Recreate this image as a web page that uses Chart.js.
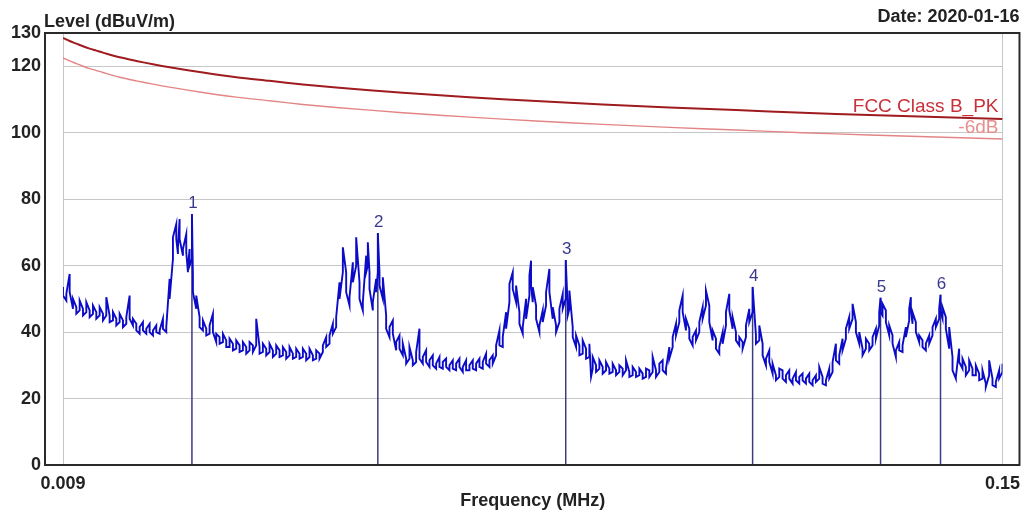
<!DOCTYPE html>
<html>
<head>
<meta charset="utf-8">
<script src="https://cdn.jsdelivr.net/npm/chart.js@4.4.1/dist/chart.umd.min.js"></script>
<style>
html,body{margin:0;padding:0;background:#fff}
#wrap{width:1028px;height:517px;position:relative}
</style>
</head>
<body>
<div id="wrap"><canvas id="c" width="1028" height="517"></canvas></div>
<script>
// ---- texts ----
const yAxisTitle = 'Level (dBuV/m)';
const xAxisTitle = 'Frequency (MHz)';
const dateText = 'Date: 2020-01-16';

// ---- ticks ----
const xTickValues = [0.009, 0.15];
const xTickLabels = ['0.009', '0.15'];
const yTickValues = [0, 20, 40, 60, 80, 100, 120, 130];

// ---- limit lines (kHz, dBuV/m) ----
const limitName = 'FCC Class B_PK';
const marginName = '-6dB';
const limitKHz = [9, 10, 11, 12, 13, 14, 15, 17.5, 20, 22.5, 25, 30, 35, 40, 45, 50, 60, 70, 80, 90, 100, 110, 120, 130, 140, 150];
const limitDb  = [128.5, 127.6, 126.8, 126.0, 125.3, 124.7, 124.1, 122.7, 121.6, 120.6, 119.7, 118.1, 116.7, 115.6, 114.5, 113.6, 112.0, 110.7, 109.5, 108.5, 107.6, 106.8, 106.0, 105.3, 104.7, 104.1];
const marginDb = [122.5, 121.6, 120.8, 120.0, 119.3, 118.7, 118.1, 116.7, 115.6, 114.6, 113.7, 112.1, 110.7, 109.6, 108.5, 107.6, 106.0, 104.7, 103.5, 102.5, 101.6, 100.8, 100.0, 99.3, 98.7, 98.1];

// ---- measured trace (kHz, dBuV/m): top and bottom of the noise band ----
const traceKHz = [
  9, 9.5, 10, 10.5, 11, 11.5, 12, 12.5, 13, 13.5,
  14, 14.5, 15, 15.5, 16, 16.5, 17, 17.5, 18, 18.5,
  19, 19.5, 20, 20.5, 21, 21.5, 22, 22.5, 23, 23.5,
  24, 24.5, 25, 25.5, 26, 26.25, 26.5, 27, 27.5, 27.75, 28, 28.35, 28.5,
  29, 29.5, 30, 30.5, 31, 31.5, 32, 32.5, 33, 33.5,
  34, 34.5, 35, 35.5, 36, 36.5, 37, 37.5, 38, 38.5,
  39, 39.5, 40, 40.5, 41, 41.5, 42, 42.5, 43, 43.5,
  44, 44.5, 45, 45.5, 46, 46.5, 47, 47.5, 48, 48.5,
  49, 49.5, 50, 50.5, 51, 51.5, 52, 52.5, 53, 53.5,
  54, 54.5, 54.75, 55, 55.5, 56, 56.25, 56.5, 57, 57.5, 58, 58.5,
  59, 59.5, 60, 60.5, 61, 61.5, 62, 62.5, 63, 63.5,
  64, 64.5, 65, 65.5, 66, 66.5, 67, 67.5, 68, 68.5,
  69, 69.5, 70, 70.5, 71, 71.5, 72, 72.5, 73, 73.5,
  74, 74.5, 75, 75.5, 76, 76.5, 77, 77.5, 78, 78.5,
  79, 79.25, 79.5, 80, 80.5, 81, 81.5, 82, 82.5, 83, 83.5,
  84, 84.45, 84.75, 85, 85.5, 86, 86.5, 87, 87.5, 88, 88.25, 88.5,
  89, 89.5, 90, 90.5, 91, 91.5, 92, 92.5, 93, 93.5,
  94, 94.5, 95, 95.5, 96, 96.5, 97, 97.5, 98, 98.5,
  99, 99.5, 100, 100.5, 101, 101.5, 102, 102.5, 103, 103.5,
  104, 104.5, 105, 105.5, 106, 106.5, 107, 107.5, 108, 108.5,
  109, 109.5, 110, 110.5, 111, 111.5, 112, 112.5, 113, 113.5,
  114, 114.5, 115, 115.5, 116, 116.5, 117, 117.5, 118, 118.5,
  119, 119.5, 120, 120.5, 121, 121.5, 122, 122.5, 123, 123.5,
  124, 124.5, 125, 125.5, 126, 126.5, 127, 127.5, 128, 128.5,
  129, 129.5, 130, 130.5, 131, 131.5, 131.7, 132, 132.5, 133, 133.5,
  134, 134.5, 135, 135.5, 136, 136.25, 136.5, 137, 137.5, 138, 138.5,
  139, 139.5, 140, 140.5, 140.7, 141, 141.5, 142, 142.5, 143, 143.5,
  144, 144.5, 145, 145.5, 146, 146.5, 147, 147.5, 148, 148.5, 149, 149.5, 150
];
const traceDb = [
  53.6, 51.5, 57.5, 50.0, 47.5, 49.5, 47.0, 49.0, 46.5, 48.0,
  46.0, 47.5, 45.5, 50.5, 45.0, 46.0, 44.0, 45.5, 43.5, 44.5,
  51.0, 44.0, 42.5, 41.5, 43.0, 41.0, 42.5, 40.5, 42.0, 40.5,
  44.0, 41.5, 56.0, 68.5, 72.5, 65.5, 74.0, 65.0, 69.5, 59.5, 65.0, 75.5, 57.0,
  51.0, 44.5, 43.5, 41.0, 42.0, 45.5, 39.5, 38.5, 39.5, 37.5,
  38.0, 36.5, 37.5, 36.0, 37.0, 35.5, 37.0, 36.0, 44.0, 35.5,
  36.5, 35.0, 36.5, 34.5, 36.0, 34.5, 35.5, 34.0, 35.5, 33.5,
  35.0, 33.5, 35.0, 33.5, 35.0, 33.0, 34.5, 33.5, 36.0, 38.5,
  39.0, 42.5, 44.5, 55.0, 65.5, 58.0, 50.5, 61.0, 68.5, 55.0,
  49.0, 63.0, 67.0, 58.0, 49.0, 56.0, 69.8, 58.0, 56.5, 45.0, 41.5, 43.5,
  37.0, 39.0, 36.5, 32.0, 35.5, 31.5, 34.0, 41.0, 32.5, 34.5,
  31.5, 33.0, 30.5, 32.5, 31.0, 32.0, 30.0, 31.5, 30.5, 32.0,
  29.5, 31.5, 30.0, 31.5, 30.5, 32.0, 31.0, 33.5, 31.5, 33.0,
  36.0, 40.5, 38.5, 46.0, 54.5, 58.0, 54.0, 46.0, 41.5, 50.0,
  57.0, 61.5, 53.5, 48.0, 42.0, 46.5, 52.0, 59.0, 47.5, 42.0, 47.0,
  51.5, 61.7, 47.5, 52.5, 41.5, 39.0, 36.0, 37.5, 35.0, 36.5, 26.5, 32.5,
  30.0, 31.5, 29.5, 31.0, 29.0, 30.5, 28.5, 30.0, 29.0, 31.5,
  28.0, 29.5, 28.0, 29.0, 27.5, 29.0, 28.5, 32.5, 28.5, 30.5,
  31.5, 29.0, 35.5, 38.5, 42.5, 46.5, 51.0, 44.0, 41.0, 38.5,
  40.5, 43.0, 47.5, 52.5, 48.0, 40.5, 38.0, 35.5, 40.0, 46.0,
  51.5, 44.5, 40.0, 38.5, 37.0, 42.0, 47.0, 53.6, 39.0, 42.0,
  36.5, 32.0, 34.5, 30.5, 27.0, 29.0, 28.5, 27.0, 28.5, 26.0,
  28.0, 26.5, 27.5, 26.0, 27.5, 25.5, 27.0, 29.5, 26.5, 25.5,
  29.0, 31.0, 36.5, 33.0, 38.0, 41.0, 44.5, 48.5, 43.0, 40.0,
  35.0, 38.0, 36.5, 38.5, 41.0, 46.0, 50.3, 48.5, 46.5, 42.0, 39.0,
  34.5, 37.0, 36.0, 41.5, 47.0, 50.5, 46.0, 43.0, 39.0, 37.5, 36.5,
  39.0, 41.5, 44.0, 47.0, 51.2, 47.5, 44.5, 41.5, 32.5, 26.5, 35.0,
  32.0, 29.5, 31.5, 29.0, 30.0, 27.5, 28.5, 24.5, 31.5, 26.0, 25.0, 28.5, 30.5
];
const traceLowDb = [
  51.0, 49.5, 52.0, 47.0, 45.5, 46.5, 45.0, 46.0, 44.5, 45.5,
  44.0, 45.0, 43.5, 45.0, 43.0, 43.5, 42.0, 43.0, 41.5, 42.5,
  44.0, 42.0, 40.5, 39.5, 40.5, 39.5, 40.0, 39.0, 40.0, 39.5,
  41.0, 40.0, 50.0, 62.0, 68.0, 63.5, 68.0, 63.0, 64.0, 58.0, 60.0, 62.0, 52.0,
  47.0, 41.5, 40.5, 39.0, 39.5, 40.0, 37.0, 36.5, 37.0, 35.5,
  35.5, 34.5, 35.0, 34.0, 34.5, 33.5, 34.5, 34.0, 36.0, 33.5,
  34.0, 33.0, 34.0, 32.5, 33.5, 32.5, 33.0, 32.0, 33.0, 32.0,
  32.5, 32.0, 32.5, 31.5, 32.5, 31.5, 32.0, 32.0, 34.0, 35.5,
  36.5, 39.5, 41.5, 50.0, 58.0, 52.0, 48.0, 55.0, 60.0, 50.0,
  46.5, 58.0, 60.0, 53.0, 46.5, 52.0, 58.0, 54.0, 50.0, 41.0, 38.5, 39.5,
  34.5, 35.0, 33.0, 30.5, 32.0, 30.0, 31.0, 32.0, 30.5, 31.0,
  29.5, 30.0, 29.0, 29.5, 29.0, 29.5, 28.5, 29.0, 28.5, 29.5,
  28.0, 28.5, 28.5, 29.0, 28.5, 29.5, 29.0, 30.5, 29.5, 30.5,
  33.0, 36.0, 35.5, 41.0, 49.0, 53.0, 49.0, 42.5, 39.5, 44.0,
  51.0, 54.0, 49.0, 44.0, 40.0, 43.0, 48.0, 52.0, 44.0, 40.0, 43.0,
  47.0, 50.0, 45.0, 47.0, 38.5, 35.5, 33.0, 33.5, 32.0, 32.5, 26.5, 29.0,
  28.0, 29.0, 27.5, 28.5, 27.5, 28.0, 27.0, 28.0, 27.0, 28.5,
  26.5, 27.0, 26.5, 27.0, 26.0, 26.5, 26.5, 28.0, 26.5, 28.0,
  28.5, 27.5, 32.0, 35.5, 39.0, 43.0, 46.0, 40.5, 38.0, 36.0,
  37.5, 40.0, 44.0, 48.0, 43.0, 37.5, 35.0, 33.5, 36.5, 42.0,
  46.5, 41.0, 37.5, 36.0, 35.0, 38.5, 43.0, 46.0, 36.5, 37.5,
  33.0, 30.0, 31.0, 27.5, 25.5, 26.5, 26.0, 25.0, 26.0, 24.5,
  25.5, 24.5, 25.5, 24.5, 25.0, 24.0, 25.0, 26.0, 24.5, 24.0,
  26.0, 28.0, 31.5, 30.5, 34.5, 38.0, 41.0, 44.0, 40.0, 36.5,
  33.0, 35.0, 34.5, 36.0, 38.0, 42.0, 46.0, 45.0, 43.0, 39.0, 36.5,
  32.5, 34.5, 34.0, 38.5, 43.5, 46.5, 42.5, 40.0, 37.0, 35.5, 34.5,
  36.5, 39.0, 41.5, 44.0, 46.0, 44.0, 41.0, 35.0, 28.5, 26.0, 31.0,
  29.0, 27.0, 28.5, 27.0, 27.0, 25.5, 26.0, 23.5, 27.0, 24.0, 23.5, 26.0, 28.0
];

// ---- markers ----
const markerLabels = ['1', '2', '3', '4', '5', '6'];
const markerKHz = [28.35, 56.25, 84.45, 112.5, 131.7, 140.7];
const markerDb  = [75.5, 69.8, 61.7, 53.6, 50.3, 51.2];

if (traceKHz.length !== traceDb.length || traceKHz.length !== traceLowDb.length)
  console.error('trace length mismatch', traceKHz.length, traceDb.length, traceLowDb.length);

// ---- build datasets ----
const toXY = (fs, vs) => fs.map((f, i) => ({ x: f / 1000, y: vs[i] }));
// each frequency bin drawn as a vertical stroke between band bottom and top,
// alternating direction so the trace reads as a dense noise band
const bandXY = traceKHz.flatMap((f, i) => {
  const hi = { x: f / 1000, y: traceDb[i] }, lo = { x: f / 1000, y: traceLowDb[i] };
  return i % 2 === 0 ? [hi, lo] : [lo, hi];
});
const markerLines = [];
markerKHz.forEach((f, i) => {
  markerLines.push({ x: f / 1000, y: 0 }, { x: f / 1000, y: markerDb[i] }, { x: f / 1000, y: null });
});

const FONT = 'Arial, "Liberation Sans", sans-serif';
Chart.defaults.font.family = FONT;

const deco = {
  id: 'deco',
  afterDraw(chart) {
    const { ctx, chartArea: a, scales: { x, y } } = chart;
    ctx.save();
    // outer frame
    ctx.strokeStyle = '#2a2a2a';
    ctx.lineWidth = 2;
    ctx.strokeRect(a.left - 18, a.top, (a.right + 17) - (a.left - 18), a.bottom - a.top);

    // marker numbers
    ctx.fillStyle = '#3a3a8c';
    ctx.font = '17px ' + FONT;
    ctx.textAlign = 'center';
    ctx.textBaseline = 'bottom';
    markerLabels.forEach((t, i) => {
      const px = x.getPixelForValue(markerKHz[i] / 1000);
      const py = y.getPixelForValue(markerDb[i]);
      ctx.fillText(t, px + 1, py - 2);
    });

    // limit labels
    const li = limitKHz.length - 1;
    const lx = x.getPixelForValue(limitKHz[li] / 1000) - 4;
    ctx.textAlign = 'right';
    ctx.textBaseline = 'alphabetic';
    ctx.font = '19px ' + FONT;
    ctx.fillStyle = '#c9313a';
    ctx.fillText(limitName, lx, y.getPixelForValue(limitDb[li]) - 7);
    ctx.fillStyle = '#e88e8e';
    ctx.fillText(marginName, lx, y.getPixelForValue(marginDb[li]) - 6);

    // titles
    ctx.fillStyle = '#222';
    ctx.font = 'bold 18px ' + FONT;
    ctx.textAlign = 'left';
    ctx.fillText(yAxisTitle, a.left - 19, 27);
    ctx.textAlign = 'right';
    ctx.fillText(dateText, a.right + 17, 22);
    ctx.textAlign = 'center';
    ctx.fillText(xAxisTitle, (a.left + a.right) / 2, 506);
    ctx.restore();
  }
};

new Chart(document.getElementById('c'), {
  type: 'line',
  data: {
    datasets: [
      { label: 'trace', data: bandXY, borderColor: '#0c0cc8', borderWidth: 1.9, pointRadius: 0, tension: 0 },
      { label: limitName, data: toXY(limitKHz, limitDb), borderColor: '#9e1b1f', borderWidth: 2, pointRadius: 0, tension: 0.3 },
      { label: marginName, data: toXY(limitKHz, marginDb), borderColor: '#e48585', borderWidth: 1.4, pointRadius: 0, tension: 0.3 },
      { label: 'markers', data: markerLines, borderColor: '#3c3c82', borderWidth: 1.5, pointRadius: 0, spanGaps: false }
    ]
  },
  options: {
    responsive: false,
    animation: false,
    events: [],
    layout: { padding: { top: 33, right: 25, left: 0, bottom: 0 } },
    plugins: { legend: { display: false }, tooltip: { enabled: false }, title: { display: false } },
    scales: {
      x: {
        type: 'linear',
        min: xTickValues[0],
        max: xTickValues[xTickValues.length - 1],
        afterBuildTicks: s => { s.ticks = xTickValues.map(v => ({ value: v })); },
        afterFit: s => { s.height = 52; },
        ticks: {
          autoSkip: false, maxRotation: 0, padding: 8,
          color: '#222', font: { size: 18, weight: 'bold' },
          callback: v => xTickLabels[xTickValues.indexOf(v)]
        },
        grid: { color: '#c6c6c6', lineWidth: 1, drawTicks: false },
        border: { display: false }
      },
      y: {
        type: 'linear',
        min: 0, max: 130,
        afterBuildTicks: s => { s.ticks = yTickValues.map(v => ({ value: v })); },
        afterFit: s => { s.width = 63; },
        ticks: {
          autoSkip: false, padding: 22,
          color: '#222', font: { size: 18, weight: 'bold' },
          callback: v => String(v)
        },
        grid: { color: '#c6c6c6', lineWidth: 1, drawTicks: false },
        border: { display: false }
      }
    }
  },
  plugins: [deco]
});
</script>
</body>
</html>
